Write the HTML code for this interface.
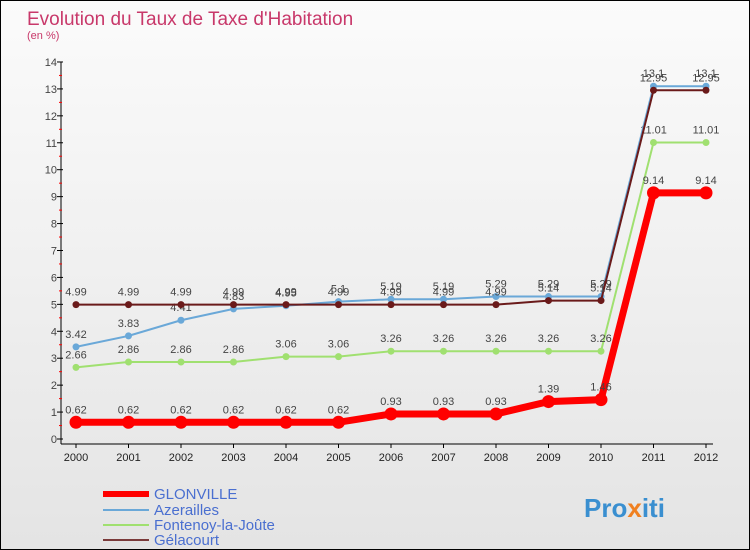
<!DOCTYPE html>
<html><head><meta charset="utf-8"><style>
body{margin:0}
#c{width:750px;height:550px;position:relative;overflow:hidden;border:1px solid #000;box-sizing:border-box;background:linear-gradient(#fbfbfb,#e4e4e4);font-family:"Liberation Sans",sans-serif}
</style></head><body>
<div id="c">
<svg id="s" width="750" height="550" style="position:absolute;left:0;top:0">
<text x="26" y="24" font-size="19" fill="#c8386a">Evolution du Taux de Taxe d'Habitation</text>
<text x="26" y="38" font-size="11" fill="#c8386a">(en %)</text>
<g id="g"></g>
<text x="153" y="498" font-size="15" fill="#4a6fd0">GLONVILLE</text>
<line x1="102" y1="493" x2="148" y2="493" stroke="#f00" stroke-width="6"/>
<text x="153" y="514" font-size="15" fill="#4a6fd0">Azerailles</text>
<line x1="102" y1="509" x2="148" y2="509" stroke="#6aa8d8" stroke-width="2"/>
<text x="153" y="529" font-size="15" fill="#4a6fd0">Fontenoy-la-Joûte</text>
<line x1="102" y1="524" x2="148" y2="524" stroke="#a0e070" stroke-width="2"/>
<text x="153" y="544" font-size="15" fill="#4a6fd0">Gélacourt</text>
<line x1="102" y1="539" x2="148" y2="539" stroke="#7a3a3a" stroke-width="2"/>
<text x="583" y="516" font-size="26" font-weight="bold" fill="#3a8fd0">Pro<tspan fill="#f08020">x</tspan>iti</text>
</svg>
</div>
<script>
const years=["2000","2001","2002","2003","2004","2005","2006","2007","2008","2009","2010","2011","2012"];
const yTicks=[0,1,2,3,4,5,6,7,8,9,10,11,12,13,14];
const glonville=[0.62,0.62,0.62,0.62,0.62,0.62,0.93,0.93,0.93,1.39,1.46,9.14,9.14];
const azerailles=[3.42,3.83,4.41,4.83,4.95,5.1,5.19,5.19,5.29,5.29,5.29,13.1,13.1];
const fontenoy=[2.66,2.86,2.86,2.86,3.06,3.06,3.26,3.26,3.26,3.26,3.26,11.01,11.01];
const gelacourt=[4.99,4.99,4.99,4.99,4.99,4.99,4.99,4.99,4.99,5.14,5.14,12.95,12.95];
const NS="http://www.w3.org/2000/svg",g=document.getElementById('g');
const X=i=>75+i*52.5, Y=v=>438-v*26.93;
function el(t,a,name){const e=document.createElementNS(NS,t);for(const k in a)e.setAttribute(k,a[k]);


g.appendChild(e);return e;}
el('line',{x1:60,y1:Y(14),x2:60,y2:Y(0)+5,stroke:'#000'},'y-axis');
el('line',{x1:60,y1:Y(0)+5,x2:712,y2:Y(0)+5,stroke:'#000'},'x-axis');
yTicks.forEach(v=>{el('line',{x1:56,y1:Y(v),x2:62,y2:Y(v),stroke:'#000'},'y-tick');
if(v<14)el('line',{x1:58,y1:Y(v+0.5),x2:61,y2:Y(v+0.5),stroke:'#f00'},'y-minor-tick');
const t=el('text',{x:56,y:Y(v)+4,'font-size':11,fill:'#444','text-anchor':'end'},'y-tick-label');t.textContent=v;});
years.forEach((y,i)=>{el('line',{x1:X(i),y1:Y(0)+5,x2:X(i),y2:Y(0)+9,stroke:'#000'},'x-tick');
const t=el('text',{x:X(i),y:Y(0)+22,'font-size':11,fill:'#222','text-anchor':'middle'},'x-tick-label');t.textContent=y;});
function series(d,col,w,r,name){
el('polyline',{points:d.map((v,i)=>X(i)+','+Y(v)).join(' '),fill:'none',stroke:col,'stroke-width':w},name+'-line');
d.forEach((v,i)=>{el('circle',{cx:X(i),cy:Y(v),r:r,fill:col},name+'-point');
const t=el('text',{x:X(i),y:Y(v)-9,'font-size':11,fill:'#444','text-anchor':'middle'},name+'-value-label');t.textContent=v;});}
series(fontenoy,'#a0e070',2,3.5,'fontenoy');
series(azerailles,'#6aa8d8',2,3.5,'azerailles');
series(gelacourt,'#6a1a1a',2,3.5,'gelacourt');
series(glonville,'#f00',7,6.5,'glonville');
</script>
</body></html>
